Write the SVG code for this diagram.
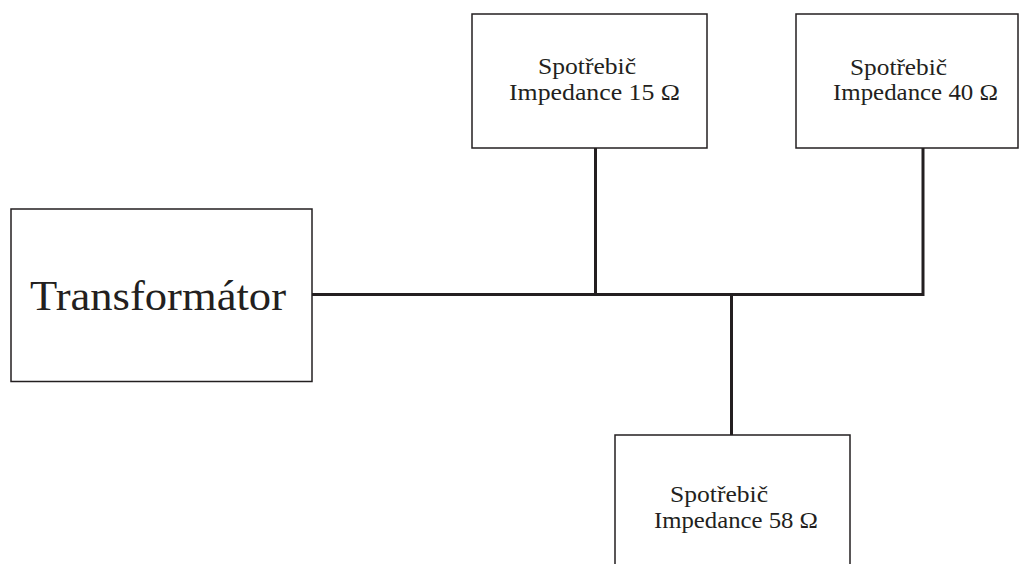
<svg xmlns="http://www.w3.org/2000/svg" width="1019" height="564" viewBox="0 0 1019 564">
<style>
.box{fill:#fff;stroke:#231f20;stroke-width:1.5}
.wire{fill:none;stroke:#231f20;stroke-width:3}
text{font-family:"Liberation Serif","DejaVu Serif",serif;fill:#231f20}
.s{font-size:24px}
.big{font-size:42px}
</style>
<rect width="1019" height="564" fill="#fff"/>
<g id="connectors">
<polyline class="wire" points="312,294.5 923,294.5 923,148"/>
<line class="wire" x1="595.5" y1="148" x2="595.5" y2="294.5"/>
<line class="wire" x1="731.5" y1="294.5" x2="731.5" y2="435"/>
</g>
<g id="transformator">
<rect class="box" x="11" y="209" width="301" height="172.5"/>
<text class="big" x="30" y="310" textLength="256" lengthAdjust="spacingAndGlyphs">Transformátor</text>
</g>
<g id="spotrebic15">
<rect class="box" x="472" y="14" width="235" height="134"/>
<text class="s" x="538" y="74" textLength="98" lengthAdjust="spacingAndGlyphs">Spotřebič</text>
<text class="s" x="509" y="100" textLength="171" lengthAdjust="spacingAndGlyphs">Impedance 15 Ω</text>
</g>
<g id="spotrebic40">
<rect class="box" x="796" y="14" width="222" height="134"/>
<text class="s" x="850" y="75" textLength="97" lengthAdjust="spacingAndGlyphs">Spotřebič</text>
<text class="s" x="833" y="100" textLength="165" lengthAdjust="spacingAndGlyphs">Impedance 40 Ω</text>
</g>
<g id="spotrebic58">
<rect class="box" x="615" y="435" width="235" height="140"/>
<text class="s" x="670" y="502" textLength="98" lengthAdjust="spacingAndGlyphs">Spotřebič</text>
<text class="s" x="654" y="528" textLength="164" lengthAdjust="spacingAndGlyphs">Impedance 58 Ω</text>
</g>
</svg>
